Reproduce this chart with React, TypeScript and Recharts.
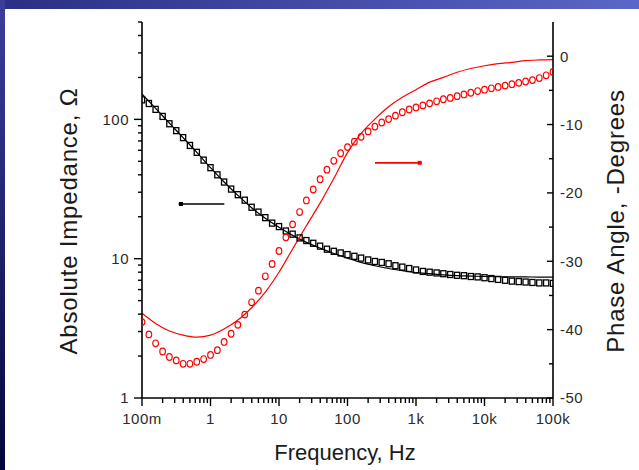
import React from "react";
import {
  LineChart,
  Line,
  XAxis,
  YAxis,
  ReferenceLine,
  ReferenceDot,
} from "recharts";

// measured points, 10 per decade
const freq = [
  0.1, 0.126, 0.158, 0.2, 0.251, 0.316, 0.398, 0.501, 0.631, 0.794,
  1, 1.26, 1.58, 2, 2.51, 3.16, 3.98, 5.01, 6.31, 7.94,
  10, 12.6, 15.8, 20, 25.1, 31.6, 39.8, 50.1, 63.1, 79.4,
  100, 126, 158, 200, 251, 316, 398, 501, 631, 794,
  1000, 1260, 1580, 2000, 2510, 3160, 3980, 5010, 6310, 7940,
  10000, 12600, 15800, 20000, 25100, 31600, 39800, 50100, 63100, 79400,
  100000,
];

const impedance = [
  138, 130, 118, 105, 93, 83, 74, 65, 58, 51,
  45, 40, 35.5, 31.6, 28.8, 26.3, 23.4, 21.6, 19.7, 18.0,
  17.0, 15.8, 15.0, 14.1, 13.5, 12.9, 12.3, 11.7, 11.3, 11.0,
  10.7, 10.4, 10.1, 9.8, 9.55, 9.4, 9.2, 8.9, 8.7, 8.5,
  8.3, 8.1, 8.0, 7.9, 7.8, 7.7, 7.6, 7.55, 7.45, 7.4,
  7.3, 7.2, 7.1, 7.0, 6.9, 6.85, 6.8, 6.75, 6.7, 6.7,
  6.65,
];

const phase = [
  -38.9, -40.7, -42.0, -43.2, -44.0, -44.5, -45.0, -45.0, -44.7, -44.3,
  -43.7, -43.0, -41.8, -40.6, -39.3, -37.8, -36.0, -34.3, -32.2, -30.4,
  -28.5, -26.5, -24.6, -22.8, -21.1, -19.5, -18.0, -16.6, -15.3, -14.2,
  -13.3, -12.5, -11.8, -11.0, -10.3, -9.7, -9.2, -8.7, -8.2, -7.8,
  -7.5, -7.2, -6.9, -6.6, -6.3, -6.1, -5.85, -5.6, -5.35, -5.1,
  -4.9, -4.7, -4.5, -4.3, -4.1, -3.9, -3.7, -3.5, -3.2, -2.8,
  -2.3,
];

// fitted curves
const fitFreq = [
  0.1, 0.158, 0.251, 0.398, 0.631, 1, 1.58, 2.51, 3.98, 6.31,
  10, 15.8, 25.1, 39.8, 63.1, 100, 158, 251, 398, 631,
  1000, 1580, 2510, 3980, 6310, 10000, 15800, 25100, 39800, 63100,
  100000,
];

const fitImpedance = [
  152, 120, 94, 74, 58, 45, 35.5, 28.5, 23.2, 19.5,
  16.8, 14.7, 13.1, 11.9, 10.9, 10.1, 9.4, 8.9, 8.5, 8.2,
  7.95, 7.8, 7.65, 7.55, 7.5, 7.45, 7.42, 7.4, 7.4, 7.38,
  7.38,
];

const fitPhase = [
  -37.6, -39.1, -40.2, -40.8, -41.1, -40.8, -39.9, -38.6, -36.8, -34.5,
  -31.6, -28.2, -24.8, -21.5, -17.9, -14.1, -11.3, -9.2, -7.4, -6.0,
  -4.9, -3.8, -3.1, -2.35, -1.8, -1.4, -1.1, -0.9, -0.65, -0.55,
  -0.5,
];

const xMajor = [0.1, 1, 10, 100, 1000, 10000, 100000];
const xLabels = ["100m", "1", "10", "100", "1k", "10k", "100k"];
const zMajor = [1, 10, 100];
const zLabels = ["1", "10", "100"];
const pMajor = [-50, -40, -30, -20, -10, 0];
const pMinor = [-45, -35, -25, -15, -5];

// little "which axis" pointers
const zPointer = { x1: 0.343, x2: 1.59, y: 24.7, dot: 0.37 };
const pPointer = { x1: 252, x2: 1210, y: -15.6, dot: 1130 };

const mult = [2, 3, 4, 5, 6, 7, 8, 9];
const xMinor = xMajor.slice(0, -1).flatMap((d) => mult.map((m) => d * m));
const zMinor = [...zMajor.flatMap((d) => mult.map((m) => d * m)).filter((v) => v < 500), 500];

const zip = (xs: number[], ys: number[]) => xs.map((f, i) => ({ f, v: ys[i] }));
const zData = zip(freq, impedance);
const pData = zip(freq, phase);
const zFit = zip(fitFreq, fitImpedance);
const pFit = zip(fitFreq, fitPhase);

const FONT = "'Liberation Sans', Arial, sans-serif";
const labelStyle = { fontFamily: FONT, fontSize: 15, fill: "#2a2a2a", letterSpacing: 0.5 };

function labelOf(v: number, majors: number[], labels: string[]) {
  const i = majors.findIndex((m) => Math.abs(m - v) < 1e-9);
  return i >= 0 ? labels[i] : null;
}

function BottomTick(props: any) {
  const { x, y, payload } = props;
  const label = labelOf(payload.value, xMajor, xLabels);
  return (
    <g>
      <line x1={x} x2={x} y1={y} y2={y + (label ? 8 : 5)} stroke="#000" strokeWidth={1.4} />
      {label && (
        <text x={x} y={y + 26} textAnchor="middle" {...labelStyle}>
          {label}
        </text>
      )}
    </g>
  );
}

function LeftTick(props: any) {
  const { x, y, payload } = props;
  const label = labelOf(payload.value, zMajor, zLabels);
  return (
    <g>
      <line x1={x - (label ? 8 : 4)} x2={x} y1={y} y2={y} stroke="#000" strokeWidth={1.4} />
      {label && (
        <text x={x - 13} y={y} dy="0.36em" textAnchor="end" {...labelStyle}>
          {label}
        </text>
      )}
    </g>
  );
}

function RightTick(props: any) {
  const { x, y, payload } = props;
  const major = pMajor.includes(payload.value);
  return (
    <g>
      <line x1={x - (major ? 6 : 4)} x2={x} y1={y} y2={y} stroke="#000" strokeWidth={1.4} />
      {major && (
        <text x={x + 7} y={y} dy="0.36em" textAnchor="start" {...labelStyle}>
          {String(payload.value)}
        </text>
      )}
    </g>
  );
}

const squareDot = (p: any) => (
  <rect
    key={`s${p.index}`}
    x={p.cx - 2.6}
    y={p.cy - 3}
    width={5.2}
    height={6}
    fill="none"
    stroke="#000"
    strokeWidth={1.3}
  />
);

const circleDot = (p: any) => (
  <ellipse
    key={`c${p.index}`}
    cx={p.cx}
    cy={p.cy}
    rx={2.8}
    ry={3.3}
    fill="none"
    stroke="#ff0000"
    strokeWidth={1.2}
  />
);

const axisLine = { stroke: "#000", strokeWidth: 1.6 };

const vTitle: React.CSSProperties = {
  position: "absolute",
  top: 221,
  transform: "translate(-50%, -50%) rotate(-90deg)",
  whiteSpace: "nowrap",
  fontFamily: FONT,
  fontSize: 24,
  letterSpacing: 0.8,
  color: "#1a1a1a",
};

export default function App() {
  return (
    <div
      style={{
        position: "absolute",
        left: 0,
        top: 0,
        width: 639,
        height: 470,
        background: "#fff",
        overflow: "hidden",
      }}
    >
      <div
        style={{
          position: "absolute",
          left: 0,
          top: 0,
          width: 639,
          height: 9,
          background: "linear-gradient(to right, #2b2f85, #5b67c6)",
        }}
      />
      <div
        style={{
          position: "absolute",
          left: 0,
          top: 0,
          width: 5,
          height: 470,
          background: "linear-gradient(to bottom, #3b3f9c, #05053d)",
        }}
      />

      <LineChart
        width={639}
        height={470}
        margin={{ top: 22, right: 26, bottom: 0, left: 0 }}
        style={{ position: "absolute", left: 0, top: 0 }}
      >
        <XAxis
          dataKey="f"
          type="number"
          scale="log"
          domain={[0.1, 100000]}
          allowDataOverflow
          ticks={[...xMajor, ...xMinor]}
          interval={0}
          tick={<BottomTick />}
          tickLine={false}
          tickSize={0}
          tickMargin={0}
          axisLine={axisLine}
          height={72}
        />
        <XAxis
          xAxisId="top"
          orientation="top"
          dataKey="f"
          type="number"
          scale="log"
          domain={[0.1, 100000]}
          allowDataOverflow
          tick={false}
          tickLine={false}
          axisLine={axisLine}
          height={0}
        />
        <YAxis
          yAxisId="z"
          type="number"
          scale="log"
          domain={[1, 500]}
          allowDataOverflow
          ticks={[...zMajor, ...zMinor]}
          interval={0}
          tick={<LeftTick />}
          tickLine={false}
          tickSize={0}
          tickMargin={0}
          axisLine={axisLine}
          width={142}
        />
        <YAxis
          yAxisId="p"
          orientation="right"
          type="number"
          domain={[-50, 5]}
          allowDataOverflow
          ticks={[...pMajor, ...pMinor]}
          interval={0}
          tick={<RightTick />}
          tickLine={false}
          tickSize={0}
          tickMargin={0}
          axisLine={axisLine}
          width={60}
        />

        <Line
          yAxisId="z"
          data={zFit}
          dataKey="v"
          type="monotone"
          stroke="#000"
          strokeWidth={1.2}
          dot={false}
          isAnimationActive={false}
        />
        <Line
          yAxisId="z"
          data={zData}
          dataKey="v"
          stroke="none"
          dot={squareDot}
          activeDot={false}
          isAnimationActive={false}
        />
        <Line
          yAxisId="p"
          data={pFit}
          dataKey="v"
          type="monotone"
          stroke="#ff0000"
          strokeWidth={1.2}
          dot={false}
          isAnimationActive={false}
        />
        <Line
          yAxisId="p"
          data={pData}
          dataKey="v"
          stroke="none"
          dot={circleDot}
          activeDot={false}
          isAnimationActive={false}
        />

        <ReferenceLine
          yAxisId="z"
          segment={[
            { x: zPointer.x1, y: zPointer.y },
            { x: zPointer.x2, y: zPointer.y },
          ]}
          stroke="#000"
          strokeWidth={1.6}
        />
        <ReferenceDot
          yAxisId="z"
          x={zPointer.dot}
          y={zPointer.y}
          shape={(p: any) => (
            <rect x={p.cx - 2} y={p.cy - 2} width={4} height={4} fill="#000" />
          )}
        />
        <ReferenceLine
          yAxisId="p"
          segment={[
            { x: pPointer.x1, y: pPointer.y },
            { x: pPointer.x2, y: pPointer.y },
          ]}
          stroke="#ff0000"
          strokeWidth={1.6}
        />
        <ReferenceDot
          yAxisId="p"
          x={pPointer.dot}
          y={pPointer.y}
          shape={(p: any) => (
            <rect x={p.cx - 2} y={p.cy - 2} width={4} height={4} fill="#ff0000" />
          )}
        />
      </LineChart>

      <div style={{ ...vTitle, left: 69 }}>Absolute Impedance, Ω</div>
      <div style={{ ...vTitle, left: 616 }}>Phase Angle, -Degrees</div>
      <div
        style={{
          position: "absolute",
          left: 345,
          top: 453,
          transform: "translate(-50%, -50%)",
          whiteSpace: "nowrap",
          fontFamily: FONT,
          fontSize: 22,
          color: "#1a1a1a",
        }}
      >
        Frequency, Hz
      </div>
    </div>
  );
}
